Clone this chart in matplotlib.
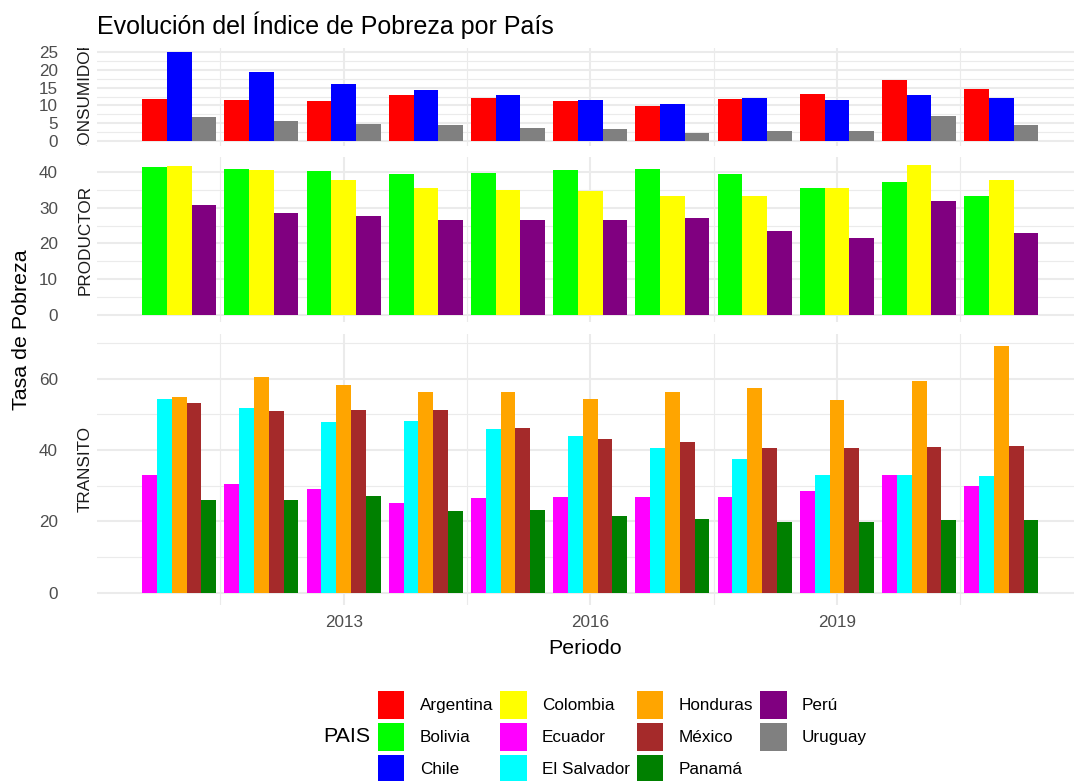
import numpy as np
import matplotlib.pyplot as plt
from matplotlib.patches import Patch
from matplotlib.ticker import MultipleLocator
from matplotlib.transforms import Bbox, TransformedBbox

plt.rcParams['font.family'] = ['Liberation Sans', 'DejaVu Sans']

years = np.arange(2011, 2022)

# CONSUMIDOR
argentina = [11.9, 11.5, 11.1, 13.0, 12.2, 11.1, 9.9, 11.9, 13.3, 17.0, 14.5]
chile = [25.0, 19.3, 16.1, 14.2, 13.0, 11.5, 10.3, 12.2, 11.5, 13.0, 12.2]
uruguay = [6.7, 5.5, 4.9, 4.4, 3.6, 3.3, 2.4, 2.9, 2.9, 7.1, 4.4]
# PRODUCTOR
bolivia = [41.4, 40.9, 40.2, 39.4, 39.8, 40.6, 41.0, 39.4, 35.5, 37.1, 33.2]
colombia = [41.7, 40.6, 37.9, 35.5, 35.1, 34.8, 33.2, 33.2, 35.5, 42.1, 37.9]
peru = [30.9, 28.6, 27.8, 26.6, 26.6, 26.6, 27.0, 23.4, 21.5, 32.0, 22.8]
# TRANSITO
ecuador = [33.1, 30.4, 29.2, 25.3, 26.5, 26.9, 26.9, 26.9, 28.4, 33.1, 30.0]
el_salvador = [54.4, 51.7, 47.9, 48.2, 45.9, 43.9, 40.5, 37.4, 33.1, 33.1, 32.7]
honduras = [54.8, 60.6, 58.3, 56.4, 56.4, 54.4, 56.4, 57.5, 54.1, 59.4, 69.2]
mexico = [53.3, 50.9, 51.3, 51.3, 46.3, 43.2, 42.4, 40.5, 40.5, 40.8, 41.2]
panama = [26.1, 26.1, 27.2, 23.0, 23.3, 21.4, 20.6, 19.9, 19.9, 20.3, 20.3]

facets = [
    ("CONSUMIDOR", ["Argentina", "Chile", "Uruguay"], [argentina, chile, uruguay], 5),
    ("PRODUCTOR", ["Bolivia", "Colombia", "Perú"], [bolivia, colombia, peru], 10),
    ("TRANSITO", ["Ecuador", "El Salvador", "Honduras", "México", "Panamá"],
     [ecuador, el_salvador, honduras, mexico, panama], 20),
]

colores = {
    "Argentina": "#FF0000", "Bolivia": "#00FF00", "Chile": "#0000FF",
    "Colombia": "#FFFF00", "Ecuador": "#FF00FF", "El Salvador": "#00FFFF",
    "Honduras": "#FFA500", "México": "#A52A2A", "Panamá": "#008000",
    "Perú": "#800080", "Uruguay": "#808080",
}
paises = list(colores.keys())

x_major = [2013, 2016, 2019]
x_minor = [2011.5, 2014.5, 2017.5, 2020.5]

W, H = 1074, 781
fig = plt.figure(figsize=(W / 100, H / 100), dpi=100)

rangos = [max(max(s) for s in serie) for _, _, serie, _ in facets]
gs = fig.add_gridspec(3, 1, height_ratios=[1.1 * r for r in rangos],
                      left=97 / W, right=1.0, top=1 - 47.5 / H, bottom=1 - 605 / H,
                      hspace=0.065)

grid_col = "#EBEBEB"
axes = []
for i, (nombre, ps, serie, paso) in enumerate(facets):
    ax = fig.add_subplot(gs[i])
    axes.append(ax)
    n = len(ps)
    w = 0.9 / n
    for k, (p, vals) in enumerate(zip(ps, serie)):
        ax.bar(years - 0.45 + (k + 0.5) * w, vals, width=w, color=colores[p], linewidth=0)
    vmax = rangos[i]
    ax.set_ylim(-0.05 * vmax, 1.05 * vmax)
    ax.set_xlim(2010, 2010 + (W - 97.5) / 82.17)
    ax.yaxis.set_major_locator(MultipleLocator(paso))
    ax.yaxis.set_minor_locator(MultipleLocator(paso / 2))
    ax.set_xticks(x_major)
    ax.set_xticks(x_minor, minor=True)
    ax.grid(True, which="major", color=grid_col, linewidth=1.5)
    ax.grid(True, which="minor", color=grid_col, linewidth=0.8)
    ax.set_axisbelow(True)
    for s in ax.spines.values():
        s.set_visible(False)
    ax.tick_params(which="both", length=0)
    ax.tick_params(axis="y", labelsize=12.3, labelcolor="#4D4D4D", pad=28)
    ax.tick_params(axis="x", labelsize=12.3, labelcolor="#4D4D4D", pad=7)
    if i < 2:
        ax.tick_params(axis="x", labelbottom=False)

    # etiqueta del panel a la izquierda, recortada a la altura del panel
    sx = -(97 - 85) / (W * (1 - 97 / W))
    t = ax.text(sx, 0.5, nombre, transform=ax.transAxes, rotation=90,
                ha="center", va="center", fontsize=12.3, color="#1A1A1A")
    t.set_clip_box(TransformedBbox(Bbox([[-0.05, 0], [0, 1]]), ax.transAxes))
    t.set_clip_on(True)

axes[-1].set_xlabel("Periodo", fontsize=15.4, labelpad=7)

fig.text(22 / W, 1 - 330 / H, "Tasa de Pobreza", rotation=90, ha="center", va="center",
         fontsize=15.4)
fig.text(97 / W, 1 - 25 / H, "Evolución del Índice de Pobreza por País", ha="left",
         va="center", fontsize=18.0)

handles = [Patch(facecolor=colores[p], edgecolor="none", label=p) for p in paises]
fig.legend(handles=handles, ncol=4, loc="center left",
           bbox_to_anchor=(378 / W, 1 - 737 / H), frameon=False, fontsize=12.3,
           handlelength=1.55, handleheight=2.23, handletextpad=0.9,
           columnspacing=0.4, labelspacing=0.18, borderpad=0, borderaxespad=0)
fig.text(370 / W, 1 - 737 / H, "PAIS", ha="right", va="center", fontsize=15.4)

fig.savefig("out.png", dpi=100)
